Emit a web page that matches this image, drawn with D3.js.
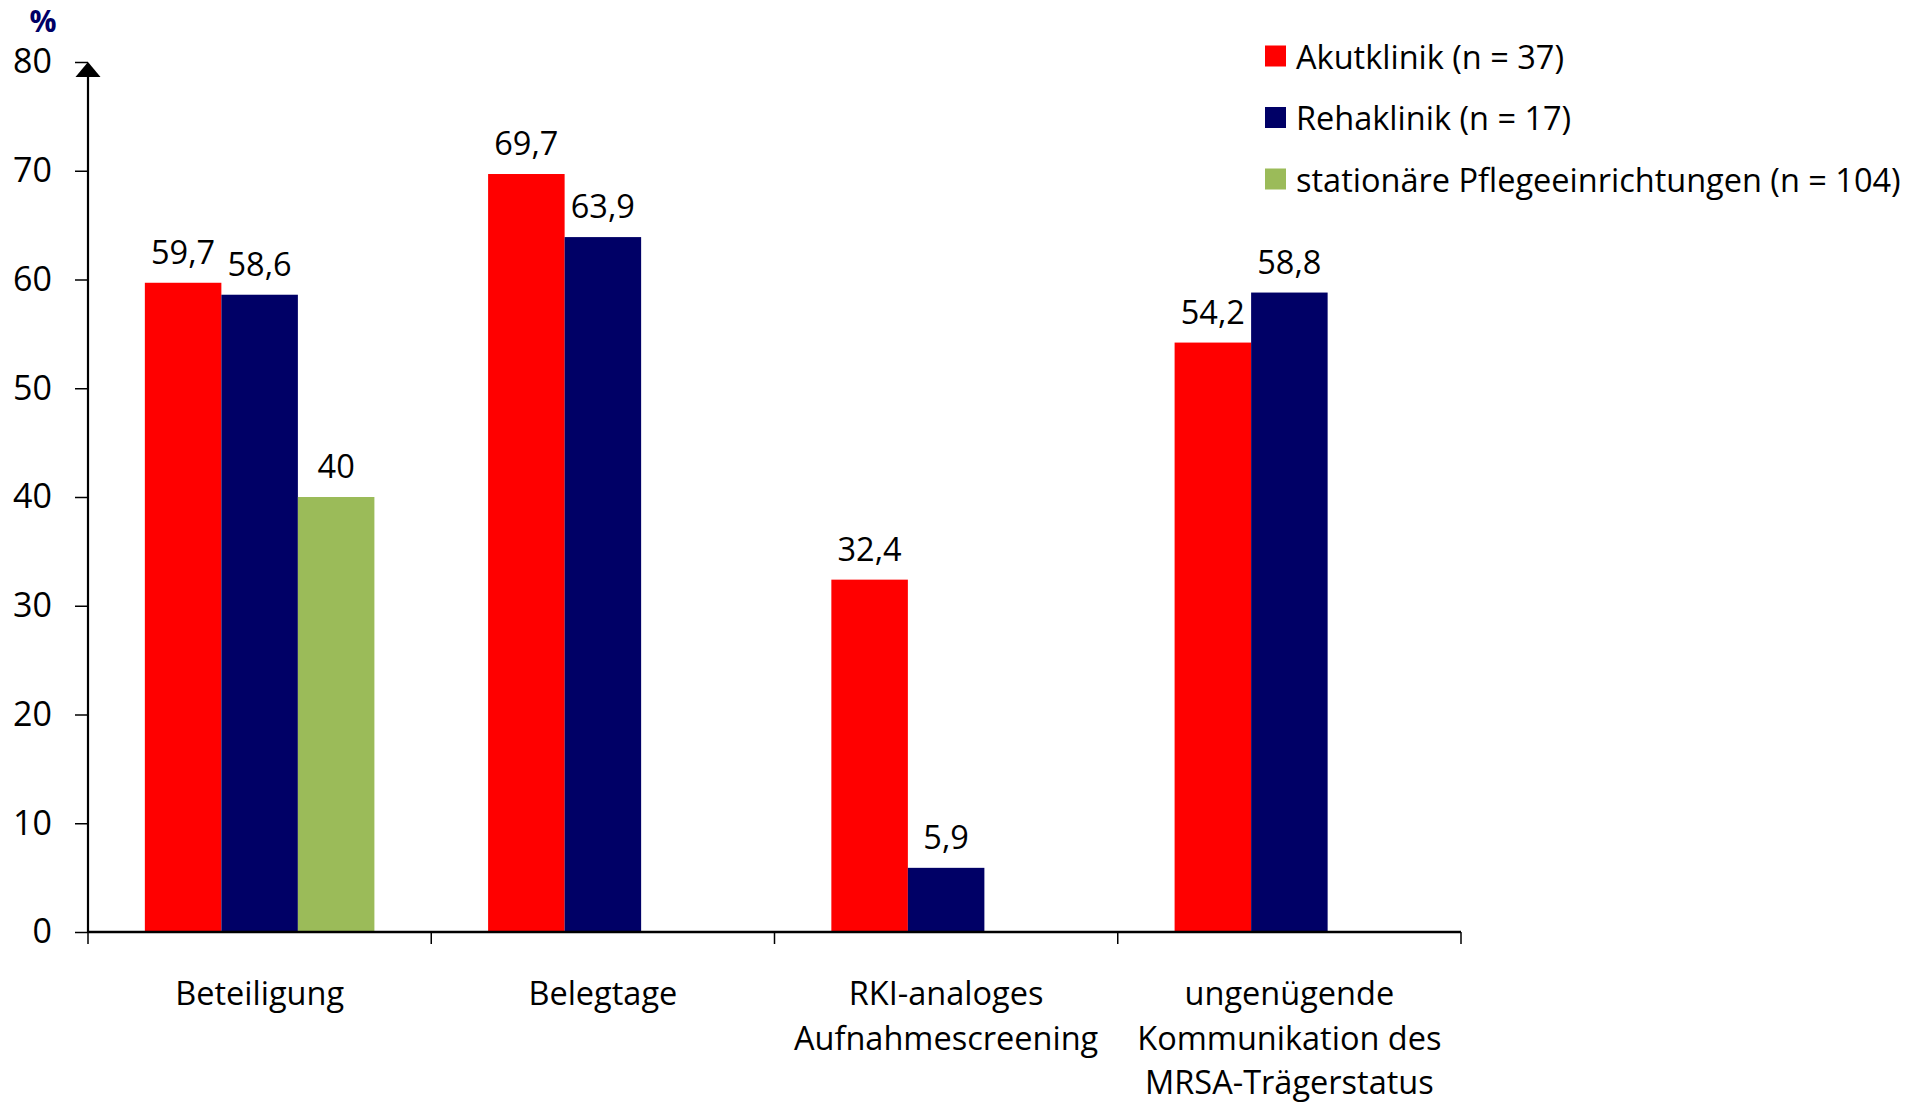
<!DOCTYPE html>
<html>
<head>
<meta charset="utf-8">
<script src="https://cdn.jsdelivr.net/npm/d3@7"></script>
<style>
  body { margin: 0; background: #fff; }
  svg text { font-family: "Open Sans", sans-serif; fill: #000; }
</style>
</head>
<body>
<svg id="chart" width="1930" height="1103"></svg>
<script>
const categories = [
  [ "Beteiligung" ],
  [ "Belegtage" ],
  [ "RKI-analoges", "Aufnahmescreening" ],
  [ "ungenügende", "Kommunikation des", "MRSA-Trägerstatus" ],
];
const seriesNames = [
  "Akutklinik (n = 37)",
  "Rehaklinik (n = 17)",
  "stationäre Pflegeeinrichtungen (n = 104)",
];
const seriesColors = [ "#ff0000", "#000066", "#9bbb59" ];
const akut = [ 59.7, 69.7, 32.4, 54.2 ];
const reha = [ 58.6, 63.9, 5.9, 58.8 ];
const pflege = [ 40, null, null, null ];
const yTicks = [ 0, 10, 20, 30, 40, 50, 60, 70, 80 ];

const svg = d3.select( "#chart" );
const X0 = 88, X1 = 1461, Y0 = 932, Y1 = 62;

const x = d3.scaleBand().domain( d3.range( categories.length ) ).range( [ X0, X1 ] );
const xs = d3.scaleBand().domain( d3.range( 3 ) ).range( [ 0, x.bandwidth() ] ).paddingOuter( 0.743 );
const y = d3.scaleLinear().domain( [ 0, 80 ] ).range( [ Y0, Y1 ] );

const series = [ akut, reha, pflege ];
const bars = [];
series.forEach( ( vals, s ) => vals.forEach( ( v, c ) => {
  if ( v !== null ) bars.push( { s, c, v } );
} ) );

svg.selectAll( "rect.bar" )
  .data( bars )
  .enter()
  .append( "rect" )
  .attr( "class", "bar" )
  .attr( "x", d => x( d.c ) + xs( d.s ) )
  .attr( "y", d => y( d.v ) )
  .attr( "width", xs.bandwidth() )
  .attr( "height", d => Y0 - y( d.v ) )
  .attr( "fill", d => seriesColors[d.s] );

svg.selectAll( "text.val" )
  .data( bars )
  .enter()
  .append( "text" )
  .attr( "class", "val" )
  .attr( "x", d => x( d.c ) + xs( d.s ) + xs.bandwidth() / 2 )
  .attr( "y", d => y( d.v ) - 19 )
  .attr( "text-anchor", "middle" )
  .style( "font-size", "32.5px" )
  .text( d => String( d.v ).replace( ".", "," ) );

// y axis
const yAxis = d3.axisLeft( y ).tickValues( yTicks ).tickSize( 13 ).tickPadding( 23 );
const gy = svg.append( "g" ).attr( "transform", `translate(${X0},0)` ).call( yAxis );
gy.select( ".domain" ).remove();
gy.selectAll( ".tick line" ).attr( "stroke", "#000" ).attr( "stroke-width", 1.5 );
gy.selectAll( ".tick text" ).style( "font-size", "34px" ).attr( "fill", "#000" );
svg.append( "line" )
  .attr( "x1", X0 ).attr( "x2", X0 ).attr( "y1", Y0 ).attr( "y2", Y1 + 12 )
  .attr( "stroke", "#000" ).attr( "stroke-width", 2.2 );
svg.append( "path" )
  .attr( "d", `M${X0},${Y1} L${X0 - 12.5},${Y1 + 15} L${X0 + 12.5},${Y1 + 15} Z` )
  .attr( "fill", "#000" );
svg.append( "text" )
  .attr( "x", 43 ).attr( "y", 32 )
  .attr( "text-anchor", "middle" )
  .style( "font-size", "30px" ).style( "font-weight", "bold" ).style( "fill", "#000066" )
  .text( "%" );

// x axis
svg.append( "line" )
  .attr( "x1", X0 ).attr( "x2", X1 ).attr( "y1", Y0 ).attr( "y2", Y0 )
  .attr( "stroke", "#000" ).attr( "stroke-width", 2.5 );
const xTicks = d3.range( categories.length + 1 ).map( i => X0 + i * x.step() );
svg.selectAll( "line.xt" )
  .data( xTicks )
  .enter()
  .append( "line" )
  .attr( "x1", d => d ).attr( "x2", d => d ).attr( "y1", Y0 ).attr( "y2", Y0 + 12 )
  .attr( "stroke", "#000" ).attr( "stroke-width", 1.5 );

const catText = svg.selectAll( "text.cat" )
  .data( categories )
  .enter()
  .append( "text" )
  .attr( "class", "cat" )
  .attr( "text-anchor", "middle" )
  .style( "font-size", "32.5px" );
catText.selectAll( "tspan" )
  .data( ( d, i ) => d.map( line => ( { line, i } ) ) )
  .enter()
  .append( "tspan" )
  .attr( "x", d => x( d.i ) + x.bandwidth() / 2 )
  .attr( "y", ( d, j ) => 1005 + j * 44.5 )
  .text( d => d.line );

// legend
const lg = svg.selectAll( "g.lg" )
  .data( seriesNames )
  .enter()
  .append( "g" )
  .attr( "class", "lg" )
  .attr( "transform", ( d, i ) => `translate(1265,${45.5 + i * 61.5})` );
lg.append( "rect" )
  .attr( "width", 21 ).attr( "height", 21 )
  .attr( "fill", ( d, i ) => seriesColors[i] );
lg.append( "text" )
  .attr( "x", 31 ).attr( "y", 23 )
  .style( "font-size", "32.5px" )
  .text( d => d );
</script>
</body>
</html>
